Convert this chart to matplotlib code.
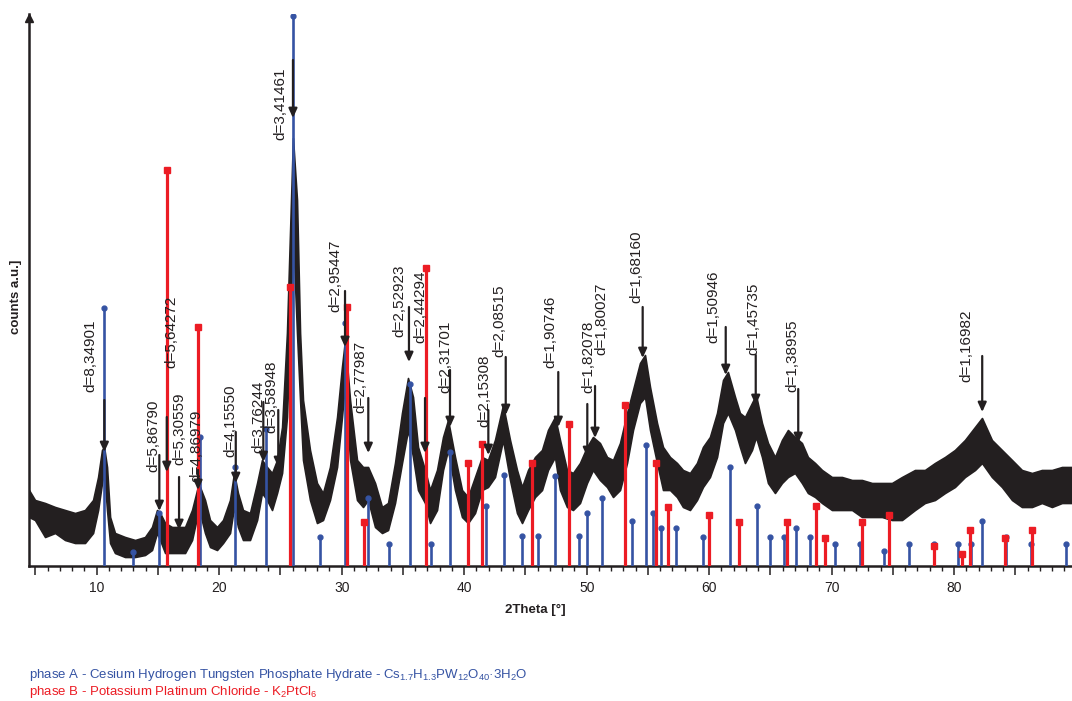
import matplotlib
matplotlib.use('Agg')
import matplotlib.pyplot as plt
from matplotlib.ticker import MultipleLocator, FuncFormatter

# measured pattern: 2Theta and upper / lower edge of the noisy trace (counts a.u.)
two_theta = [4.47, 4.96, 5.78, 6.60, 7.41, 8.23, 9.04, 9.70, 10.11, 10.43,
             10.60, 10.84, 11.09, 11.49, 12.31, 13.13, 13.94, 14.51, 14.92, 15.17,
             15.58, 16.15, 16.64, 17.21, 17.78, 18.19, 18.43, 18.84, 19.25, 19.82,
             20.31, 20.88, 21.21, 21.53, 21.94, 22.51, 23.09, 23.49, 23.90, 24.31,
             24.72, 25.13, 25.53, 25.78, 26.02, 26.35, 26.60, 26.84, 27.41, 27.98,
             28.47, 29.04, 29.62, 30.02, 30.27, 30.68, 31.25, 31.74, 32.15, 32.72,
             33.29, 33.78, 34.35, 34.92, 35.41, 35.82, 36.23, 36.80, 37.21, 37.78,
             38.27, 38.68, 39.25, 39.82, 40.31, 40.88, 41.45, 41.94, 42.51, 43.17,
             43.74, 44.31, 44.72, 45.21, 45.78, 46.35, 46.84, 47.41, 47.82, 48.39,
             48.88, 49.45, 50.02, 50.51, 51.08, 51.66, 52.15, 52.72, 53.29, 53.78,
             54.35, 54.76, 55.17, 55.74, 56.23, 56.80, 57.37, 57.86, 58.43, 59.00,
             59.49, 60.06, 60.64, 61.13, 61.53, 62.11, 62.51, 62.92, 63.49, 63.82,
             64.31, 64.80, 65.37, 65.94, 66.43, 67.00, 67.57, 68.06, 68.64, 69.21,
             70.02, 70.84, 71.66, 72.47, 73.29, 74.11, 74.92, 75.74, 76.80, 77.61,
             78.43, 79.25, 80.06, 80.88, 81.70, 82.27, 83.08, 83.90, 84.72, 85.53,
             86.35, 87.16, 87.98, 88.80, 89.62]
trace_hi = [76, 66, 63, 59, 56, 53, 56, 66, 89, 116,
            119, 99, 49, 33, 29, 26, 29, 39, 56, 53,
            43, 39, 39, 39, 56, 76, 79, 66, 46, 39,
            46, 66, 93, 73, 56, 53, 83, 106, 99, 93,
            106, 139, 233, 333, 428, 366, 233, 166, 116, 83,
            73, 99, 149, 199, 226, 166, 106, 99, 99, 83,
            59, 63, 103, 153, 188, 169, 119, 96, 76, 96,
            129, 146, 109, 76, 69, 89, 109, 106, 126, 161,
            126, 96, 79, 96, 109, 116, 136, 149, 126, 96,
            93, 103, 119, 129, 123, 109, 106, 123, 153, 176,
            203, 211, 179, 143, 119, 109, 103, 96, 93, 103,
            119, 129, 153, 186, 194, 169, 153, 149, 163, 171,
            143, 123, 109, 126, 136, 129, 123, 109, 103, 96,
            89, 89, 86, 86, 83, 83, 83, 89, 96, 96,
            103, 109, 116, 126, 139, 148, 126, 116, 106, 96,
            93, 96, 96, 99, 99]
trace_lo = [49, 46, 29, 33, 26, 23, 23, 33, 56, 83,
            95, 56, 23, 13, 9, 9, 11, 16, 33, 26,
            13, 13, 13, 13, 26, 49, 53, 33, 19, 16,
            23, 33, 59, 39, 26, 26, 46, 73, 66, 56,
            73, 93, 149, 233, 333, 233, 166, 106, 66, 43,
            46, 66, 99, 149, 183, 106, 66, 59, 66, 39,
            33, 36, 63, 103, 136, 109, 76, 63, 43, 56,
            96, 116, 76, 49, 43, 53, 76, 79, 89, 126,
            86, 53, 43, 56, 69, 76, 96, 109, 76, 59,
            56, 63, 83, 96, 86, 79, 69, 76, 103, 136,
            163, 169, 136, 103, 76, 76, 69, 59, 56, 66,
            79, 89, 109, 143, 153, 136, 119, 103, 116, 129,
            109, 83, 73, 83, 89, 93, 83, 73, 69, 63,
            56, 56, 56, 49, 49, 49, 46, 46, 56, 63,
            66, 73, 79, 89, 96, 103, 89, 79, 66, 59,
            59, 63, 59, 63, 63]

# phase A reflections (blue)
phase_a_pos = [10.62, 12.99, 15.06, 18.43, 21.31, 23.80, 26.05, 28.23, 30.24, 32.12,
               33.89, 35.60, 37.27, 38.84, 41.80, 43.27, 44.69, 46.05, 47.41, 49.35,
               50.00, 51.25, 53.70, 54.84, 55.44, 56.07, 57.27, 59.47, 61.72, 63.93,
               64.96, 66.08, 67.11, 68.23, 70.24, 72.31, 74.29, 76.33, 78.35, 80.31,
               81.35, 82.29, 84.23, 86.24, 89.10]
phase_a_int = [258, 14, 53, 129, 99, 137, 550, 29, 243, 68,
               22, 182, 22, 114, 60, 91, 30, 30, 90, 30,
               53, 68, 45, 121, 53, 38, 38, 29, 99, 60,
               29, 29, 38, 29, 22, 22, 15, 22, 22, 22,
               22, 45, 29, 22, 22]

# phase B reflections (red)
phase_b_pos = [15.77, 18.29, 25.78, 30.41, 31.82, 36.88, 40.29, 41.43, 45.53, 48.58,
               53.10, 55.66, 56.64, 60.00, 62.44, 66.38, 68.69, 69.45, 72.45, 74.68,
               78.38, 80.64, 81.29, 84.15, 86.32]
phase_b_int = [396, 239, 279, 259, 44, 298, 103, 122, 103, 142,
               161, 103, 59, 51, 44, 44, 60, 28, 44, 51,
               20, 12, 36, 28, 36]

# labelled peaks
peak_labels = ['d=8,34901', 'd=5,86790', 'd=5,64272', 'd=5,30559', 'd=4,86979',
               'd=4,15550', 'd=3,76244', 'd=3,58948', 'd=3,41461', 'd=2,95447',
               'd=2,77987', 'd=2,52923', 'd=2,44294', 'd=2,31701', 'd=2,15308',
               'd=2,08515', 'd=1,90746', 'd=1,82078', 'd=1,80027', 'd=1,68160',
               'd=1,50946', 'd=1,45735', 'd=1,38955', 'd=1,16982']
peak_pos = [10.62, 15.11, 15.72, 16.72, 18.27, 21.35, 23.60, 24.82, 26.02, 30.27,
            32.17, 35.49, 36.80, 38.84, 41.97, 43.39, 47.68, 50.05, 50.68, 54.57,
            61.35, 63.80, 67.27, 82.29]
peak_tip = [114, 55, 94, 36, 76, 83, 104, 99, 448, 219,
            113, 204, 113, 139, 111, 151, 139, 109, 128, 208,
            191, 161, 123, 154]

# where each arrow starts and where its text sits
arrow_top = [166, 111, 149, 89, 96, 134, 164, 156, 506, 275,
             168, 259, 168, 196, 156, 209, 194, 162, 180, 259,
             239, 211, 177, 210]
text_x = [9.50, 14.60, 16.12, 16.72, 18.13, 20.94, 23.19, 24.29, 24.96, 29.45,
          31.49, 34.70, 36.39, 38.43, 41.62, 42.84, 47.06, 50.11, 51.22, 54.02,
          60.33, 63.60, 66.82, 80.96]
text_y = [174, 94, 198, 101, 84, 109, 113, 133, 426, 254,
          153, 229, 223, 173, 139, 209, 198, 173, 211, 263,
          223, 211, 174, 184]

BLACK = '#231f20'
BLUE = '#3553a3'
RED = '#ec1c24'
SANS = ['Liberation Sans', 'DejaVu Sans']

plt.rcParams['font.family'] = SANS
plt.rcParams['mathtext.fontset'] = 'custom'
plt.rcParams['mathtext.rm'] = 'Liberation Sans'
plt.rcParams['mathtext.it'] = 'Liberation Sans:italic'


def main():
    fig = plt.figure(figsize=(10.72, 7.01), dpi=100)
    ax = fig.add_axes([29 / 1072, 135 / 701, 1043 / 1072, 552 / 701])
    ax.set_xlim(4.47, 89.62)
    ax.set_ylim(0, 552)

    # diffraction trace
    ax.fill_between(two_theta, trace_lo, trace_hi, color=BLACK, lw=1.2, zorder=2)

    # reference sticks
    ax.vlines(phase_a_pos, 0, phase_a_int, color=BLUE, lw=1.9, zorder=3)
    ax.plot(phase_a_pos, phase_a_int, 'o', ms=3.5, color=BLUE, zorder=3)
    ax.vlines(phase_b_pos, 0, phase_b_int, color=RED, lw=2.3, zorder=3)
    ax.plot(phase_b_pos, phase_b_int, 's', ms=5, color=RED, zorder=3)

    # peak arrows + d-spacing labels
    for i, lab in enumerate(peak_labels):
        ax.annotate('', xy=(peak_pos[i], peak_tip[i]), xytext=(peak_pos[i], arrow_top[i]),
                    arrowprops=dict(arrowstyle='-|>,head_length=0.55,head_width=0.25',
                                    lw=1.6, color=BLACK, shrinkA=0, shrinkB=0),
                    zorder=5)
        ax.text(text_x[i], text_y[i], lab, rotation=90, ha='center', va='bottom',
                fontsize=11, color=BLACK, zorder=6)

    # axes styling
    for side in ('top', 'right'):
        ax.spines[side].set_visible(False)
    for side in ('left', 'bottom'):
        ax.spines[side].set_linewidth(1.8)
        ax.spines[side].set_color(BLACK)
    ax.plot([4.47], [548], marker='^', ms=6, color=BLACK, clip_on=False, zorder=6)

    ax.set_yticks([])
    ax.xaxis.set_major_locator(MultipleLocator(5))
    ax.xaxis.set_minor_locator(MultipleLocator(1))
    ax.xaxis.set_major_formatter(FuncFormatter(
        lambda v, p: f'{int(round(v))}' if round(v) % 10 == 0 else ''))
    ax.tick_params(axis='x', which='major', direction='out', length=6.5, width=1.1,
                   pad=4, labelsize=10, colors=BLACK)
    ax.tick_params(axis='x', which='minor', direction='out', length=3.5, width=1.0,
                   colors=BLACK)

    ax.set_xlabel('2Theta [°]', fontsize=9.5, fontweight='bold', color=BLACK)
    ax.xaxis.set_label_coords((535 - 29) / 1043, -(604 - 566) / 552)
    fig.text(16 / 1072, 1 - 297 / 701, 'counts a.u.]', rotation=90, ha='center',
             va='center', fontsize=9.5, fontweight='bold', color=BLACK)

    # phase legend
    fig.text(29 / 1072, 1 - 675 / 701,
             'phase A - Cesium Hydrogen Tungsten Phosphate Hydrate - '
             'Cs$_{1.7}$H$_{1.3}$PW$_{12}$O$_{40}$·3H$_2$O',
             color=BLUE, fontsize=9.5, ha='left', va='center')
    fig.text(29 / 1072, 1 - 692 / 701,
             'phase B - Potassium Platinum Chloride - K$_2$PtCl$_6$',
             color=RED, fontsize=9.5, ha='left', va='center')

    fig.savefig('out.png', dpi=100)


if __name__ == '__main__':
    main()
